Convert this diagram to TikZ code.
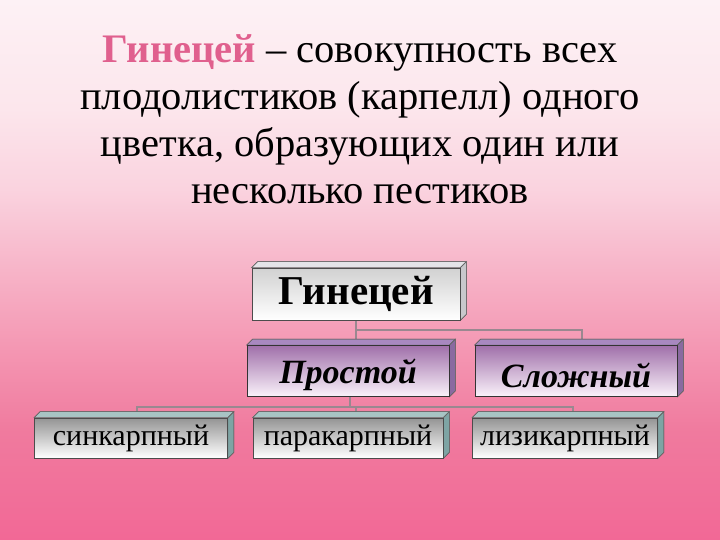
\documentclass[tikz,border=0pt]{standalone}
\usepackage{fontspec}
\setmainfont{Liberation Serif}
\definecolor{bg0}{HTML}{FDF1F5}
\definecolor{bg1}{HTML}{FCE6EC}
\definecolor{bg2}{HTML}{FAD3DF}
\definecolor{bg3}{HTML}{F7B4C8}
\definecolor{bg4}{HTML}{F496B2}
\definecolor{bg5}{HTML}{F07A9E}
\definecolor{bg6}{HTML}{F26896}
\definecolor{titlepink}{HTML}{E0608E}
\definecolor{linec}{HTML}{9A8890}
\definecolor{gtopf}{HTML}{E4E4E8}
\definecolor{gside}{HTML}{C8C8CC}
\definecolor{ptopf}{HTML}{A888C0}
\definecolor{pside}{HTML}{8A6AA0}
\definecolor{ctopf}{HTML}{A8C4C4}
\definecolor{cside}{HTML}{7EA4A4}
\definecolor{pgtop}{HTML}{A070AA}
\definecolor{pgbot}{HTML}{FAF2FA}
\pgfdeclareverticalshading{bgshade}{100bp}{color(0bp)=(bg6); color(25bp)=(bg6); color(35bp)=(bg5); color(42.5bp)=(bg4); color(50bp)=(bg3); color(57.5bp)=(bg2); color(65bp)=(bg1); color(75bp)=(bg0); color(100bp)=(bg0)}
\tikzset{
  frontbox/.style={draw=#1, line width=0.8pt, inner sep=0pt, anchor=center},
  gbox/.style={frontbox=black!70, top color=black!18, bottom color=white, minimum width=208pt, minimum height=52pt, font=\bfseries\fontsize{41}{43}\selectfont},
  pbox/.style={frontbox=black!80, top color=pgtop, bottom color=pgbot, minimum width=202pt, minimum height=51pt, font=\bfseries\itshape\fontsize{34}{36}\selectfont},
  cbox/.style={frontbox=black!70, top color=black!42, bottom color=white, minimum width=192pt, minimum height=40pt, font=\fontsize{30}{32}\selectfont},
  conn/.style={draw=linec, line width=1.2pt},
  face/.style={draw=black!60, line width=0.5pt, fill=#1},
}
\newcommand{\extrude}[3]{%
  \fill[face=#2] (#1.north west) -- ++(6,-6) -- ([shift={(6,-6)}]#1.north east) -- (#1.north east) -- cycle;
  \fill[face=#3] (#1.north east) -- ++(6,-6) -- ([shift={(6,-6)}]#1.south east) -- (#1.south east) -- cycle;
  \draw[black!60, line width=0.5pt] (#1.north west) -- ++(6,-6) -- ([shift={(6,-6)}]#1.north east) -- ([shift={(6,-6)}]#1.south east) -- (#1.south east) (#1.north east) -- ++(6,-6);
}
\newcommand{\lowtxt}[1]{\raisebox{-4pt}[\height][\depth]{#1}}
\begin{document}
\begin{tikzpicture}[x=1pt,y=-1pt]
\useasboundingbox (0,0) rectangle (720,540);
\fill[shading=bgshade] (0,0) rectangle (720,540);

% title
\node[align=center, font=\fontsize{40.5}{47}\selectfont, text=black] (title) at (360,119)
 {{\color{titlepink}\bfseries Гинецей} – совокупность всех\\
  плодолистиков (карпелл) одного\\
  цветка, образующих один или\\
  несколько пестиков};

% connector coordinates
\coordinate (j1) at (356,330);
\coordinate (j2) at (350,407);

% nodes
\node[gbox] (g) at (356,294) {Гинецей};
\node[pbox] (p) at (348,371) {\lowtxt{Простой}};
\node[pbox] (s) at (576,371) {\lowtxt{Сложный}};
\node[cbox, minimum width=193pt] (c1) at (131,438) {синкарпный};
\node[cbox, minimum width=190pt] (c2) at (348,438) {паракарпный};
\node[cbox, minimum width=185pt] (c3) at (565,438) {лизикарпный};

\coordinate (pt) at ([xshift=8pt,yshift=6pt]p.north);
\coordinate (st) at ([xshift=6pt,yshift=6pt]s.north);
\coordinate (c1t) at ([xshift=6pt,yshift=5pt]c1.north);
\coordinate (c2t) at ([xshift=8pt,yshift=5pt]c2.north);
\coordinate (c3t) at ([xshift=8pt,yshift=5pt]c3.north);

% connectors
\draw[conn] (g.south) -- (j1) -| (st);
\draw[conn] (j1) -- (j1 |- pt);
\draw[conn] (p.south -| j2) -- (j2);
\draw[conn] (c1t) |- (j2) -| (c3t);
\draw[conn] (j2 -| c2t) -- (c2t);

% extrusions
\extrude{g}{gtopf}{gside}
\extrude{p}{ptopf}{pside}
\extrude{s}{ptopf}{pside}
\extrude{c1}{ctopf}{cside}
\extrude{c2}{ctopf}{cside}
\extrude{c3}{ctopf}{cside}

% redraw node faces and texts on top of the extrusion lines
\node[gbox] at (g) {Гинецей};
\node[pbox] at (p) {\lowtxt{Простой}};
\node[pbox] at (s) {\lowtxt{Сложный}};
\node[cbox, minimum width=193pt] at (c1) {синкарпный};
\node[cbox, minimum width=190pt] at (c2) {паракарпный};
\node[cbox, minimum width=185pt] at (c3) {лизикарпный};
\end{tikzpicture}
\end{document}
